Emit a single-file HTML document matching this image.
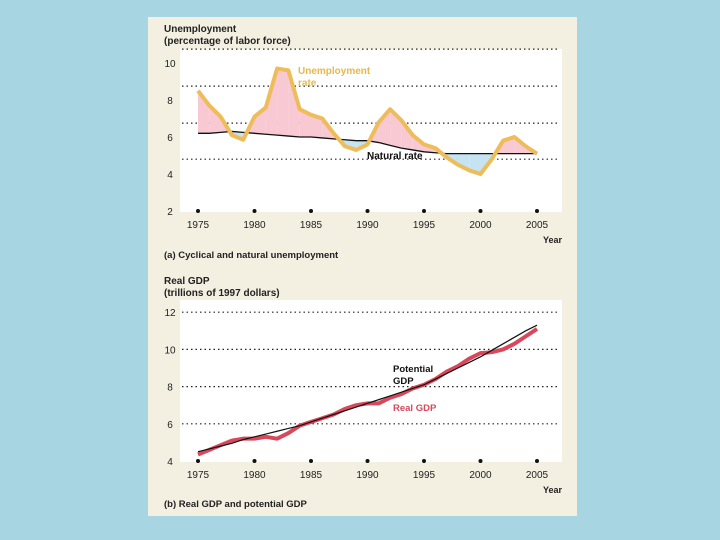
<!DOCTYPE html>
<html><head><meta charset="utf-8"><style>
html,body{margin:0;padding:0;background:#a8d5e2;width:720px;height:540px;overflow:hidden}
svg{display:block;font-family:"Liberation Sans",sans-serif}
</style></head><body>
<svg id="c" width="720" height="540">
<rect x="148" y="17" width="429" height="499" fill="#f3f0e1"/>
<rect x="180" y="49" width="382" height="163" fill="#fff"/>
<rect x="180" y="300" width="382" height="162" fill="#fff"/>
<g id="ga"></g><g id="gb"></g>
<text x="164" y="32" font-size="10" font-weight="bold" fill="#222">Unemployment</text>
<text x="164" y="44" font-size="10" font-weight="bold" fill="#222">(percentage of labor force)</text>
<text x="298" y="74" font-size="10" font-weight="bold" fill="#e8b84a">Unemployment</text>
<text x="298" y="86" font-size="10" font-weight="bold" fill="#e8b84a">rate</text>
<text x="367" y="159" font-size="10" font-weight="bold" fill="#111">Natural rate</text>
<text x="562" y="243" font-size="9" font-weight="bold" text-anchor="end" fill="#222">Year</text>
<text x="164" y="258" font-size="9.5" font-weight="bold" fill="#222">(a) Cyclical and natural unemployment</text>
<text x="164" y="284" font-size="10" font-weight="bold" fill="#222">Real GDP</text>
<text x="164" y="296" font-size="10" font-weight="bold" fill="#222">(trillions of 1997 dollars)</text>
<text x="393" y="372" font-size="9.5" font-weight="bold" fill="#111">Potential</text>
<text x="393" y="384" font-size="9.5" font-weight="bold" fill="#111">GDP</text>
<text x="393" y="411" font-size="9.5" font-weight="bold" fill="#d9475a">Real GDP</text>
<text x="562" y="493" font-size="9" font-weight="bold" text-anchor="end" fill="#222">Year</text>
<text x="164" y="507" font-size="9.5" font-weight="bold" fill="#222">(b) Real GDP and potential GDP</text>
</svg>
<script>
const years=[1975,1976,1977,1978,1979,1980,1981,1982,1983,1984,1985,1986,1987,1988,1989,1990,1991,1992,1993,1994,1995,1996,1997,1998,1999,2000,2001,2002,2003,2004,2005];
const unemp=[8.5,7.7,7.1,6.1,5.85,7.1,7.6,9.7,9.6,7.5,7.2,7.0,6.2,5.5,5.3,5.6,6.8,7.5,6.9,6.1,5.6,5.4,4.9,4.5,4.2,4.0,4.8,5.8,6.0,5.5,5.1];
const natural=[6.2,6.2,6.25,6.3,6.25,6.2,6.15,6.1,6.05,6.0,6.0,5.95,5.9,5.85,5.8,5.8,5.7,5.55,5.4,5.3,5.2,5.15,5.1,5.1,5.1,5.1,5.1,5.1,5.1,5.1,5.1];
const realGdp=[4.35,4.6,4.85,5.1,5.2,5.2,5.3,5.2,5.5,5.9,6.1,6.3,6.5,6.8,7.0,7.1,7.1,7.4,7.6,7.9,8.1,8.4,8.8,9.1,9.5,9.8,9.85,10.0,10.3,10.7,11.1];
const potGdp=[4.5,4.65,4.8,4.95,5.15,5.3,5.45,5.6,5.75,5.9,6.1,6.3,6.5,6.7,6.9,7.1,7.3,7.5,7.7,7.9,8.1,8.4,8.7,9.0,9.3,9.6,9.95,10.3,10.65,11.0,11.3];
const xTicks=[1975,1980,1985,1990,1995,2000,2005];
const yTicksA=[2,4,6,8,10];
const gridA=[4.8,6.75,8.75,10.75];
const yTicksB=[4,6,8,10,12];
const gridB=[6,8,10,12];
const NS="http://www.w3.org/2000/svg";
const x=y=>198+(y-1975)*11.3;
const ya=v=>211-(v-2)*18.5;
const yb=v=>461-(v-4)*18.6;
function mk(g,t,a){const e=document.createElementNS(NS,t);for(const k in a)e.setAttribute(k,a[k]);g.appendChild(e);return e;}
const ga=document.getElementById('ga'),gb=document.getElementById('gb');
function axes(g,ys,yt,grid,tag){
 grid.forEach(v=>{const l=mk(g,'line',{x1:182,x2:560,y1:ys(v),y2:ys(v),stroke:'#222','stroke-dasharray':'1.5,3','stroke-width':1.2});
 
 });
 yt.forEach(v=>{const t=mk(g,'text',{x:170,y:ys(v)+4,'font-size':10,'text-anchor':'middle',fill:'#222'});t.textContent=v;
 
 });
 const base=ys(yt[0]);
 xTicks.forEach(yr=>{const c=mk(g,'circle',{cx:x(yr),cy:base,r:2,fill:'#111'});
 
 
 const t=mk(g,'text',{x:x(yr),y:base+17,'font-size':10,'text-anchor':'middle',fill:'#222'});t.textContent=yr;
 
 });
}
axes(ga,ya,yTicksA,gridA,'a');axes(gb,yb,yTicksB,gridB,'b');
// shaded gaps
for(let i=0;i<years.length-1;i++){
 const d0=unemp[i]-natural[i],d1=unemp[i+1]-natural[i+1];
 const pts=[];const P=(yr,v)=>x(yr).toFixed(1)+','+ya(v).toFixed(1);
 if(d0*d1>=0){
  const p=mk(ga,'polygon',{points:[P(years[i],unemp[i]),P(years[i+1],unemp[i+1]),P(years[i+1],natural[i+1]),P(years[i],natural[i])].join(' '),fill:(d0+d1)>=0?'#f8c9d2':'#c5e3f0'});
  
  
 }else{
  const t=d0/(d0-d1),xm=years[i]+t,vm=natural[i]+t*(natural[i+1]-natural[i]);
  const p1=mk(ga,'polygon',{points:[P(years[i],unemp[i]),P(xm,vm),P(years[i],natural[i])].join(' '),fill:d0>0?'#f8c9d2':'#c5e3f0'});
  
  
  const p2=mk(ga,'polygon',{points:[P(xm,vm),P(years[i+1],unemp[i+1]),P(years[i+1],natural[i+1])].join(' '),fill:d1>0?'#f8c9d2':'#c5e3f0'});
  
  
 }
}
const nl=mk(ga,'polyline',{points:years.map((yr,i)=>x(yr)+','+ya(natural[i])).join(' '),fill:'none',stroke:'#111','stroke-width':1.3});


const ul=mk(ga,'polyline',{points:years.map((yr,i)=>x(yr)+','+ya(unemp[i])).join(' '),fill:'none',stroke:'#eebc58','stroke-width':4,'stroke-linejoin':'round'});


const rl=mk(gb,'polyline',{points:years.map((yr,i)=>x(yr)+','+yb(realGdp[i])).join(' '),fill:'none',stroke:'#d9475a','stroke-width':4,'stroke-linejoin':'round'});


const pl=mk(gb,'polyline',{points:years.map((yr,i)=>x(yr)+','+yb(potGdp[i])).join(' '),fill:'none',stroke:'#111','stroke-width':1.2});


</script>
</body></html>
